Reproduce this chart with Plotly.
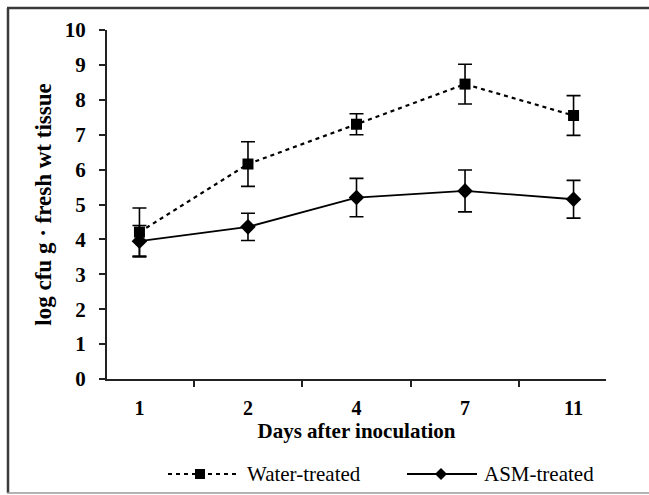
import plotly.graph_objects as go

days = ["1", "2", "4", "7", "11"]
water = [4.21, 6.16, 7.30, 8.45, 7.55]
water_err = [0.69, 0.64, 0.30, 0.57, 0.57]
asm = [3.95, 4.36, 5.20, 5.39, 5.15]
asm_err = [0.45, 0.39, 0.55, 0.60, 0.54]
y_ticks = list(range(0, 11))

W, H = 649, 495
L, R, T, B = 107, 606, 30, 379  # plot area pixels

def px(x):
    return (x - L) / (R - L)

def py(y):
    return (B - y) / (B - T)

FONT = "Liberation Serif"

fig = go.Figure()
fig.add_trace(go.Scatter(
    x=days, y=water, mode="lines+markers", name="Water-treated",
    line=dict(color="black", width=2.2, dash="4px,4px"),
    marker=dict(symbol="square", size=11, color="black"),
    error_y=dict(type="data", array=water_err, color="black", thickness=1.6, width=7),
    showlegend=False,
))
fig.add_trace(go.Scatter(
    x=days, y=asm, mode="lines+markers", name="ASM-treated",
    line=dict(color="black", width=1.8),
    marker=dict(symbol="diamond", size=12, color="black"),
    error_y=dict(type="data", array=asm_err, color="black", thickness=1.6, width=7),
    showlegend=False,
))

shapes = []
frame_col = "#3a3a3a"
shapes.append(dict(type="line", xref="paper", yref="paper", x0=px(8), x1=px(8), y0=py(8), y1=py(493),
                   line=dict(color=frame_col, width=2.5)))
shapes.append(dict(type="line", xref="paper", yref="paper", x0=px(7), x1=px(649), y0=py(8), y1=py(8),
                   line=dict(color=frame_col, width=2.5)))
shapes.append(dict(type="line", xref="paper", yref="paper", x0=px(7), x1=px(649), y0=py(493), y1=py(493),
                   line=dict(color="#9a9a9a", width=1.5)))

ly = 474
shapes.append(dict(type="line", xref="paper", yref="paper", x0=px(168), x1=px(236), y0=py(ly), y1=py(ly),
                   line=dict(color="black", width=2.2, dash="4px,4px")))
shapes.append(dict(type="rect", xref="paper", yref="paper", x0=px(195), x1=px(205), y0=py(ly + 5), y1=py(ly - 5),
                   fillcolor="black", line=dict(color="black", width=0)))
shapes.append(dict(type="line", xref="paper", yref="paper", x0=px(407), x1=px(477), y0=py(ly), y1=py(ly),
                   line=dict(color="black", width=1.8)))
dx, dy = 6, 6
cx = 441
path = "M {a},{b} L {c},{d} L {e},{f} L {g},{h} Z".format(
    a=px(cx - dx), b=py(ly), c=px(cx), d=py(ly - dy), e=px(cx + dx), f=py(ly), g=px(cx), h=py(ly + dy))
shapes.append(dict(type="path", xref="paper", yref="paper", path=path,
                   fillcolor="black", line=dict(color="black", width=0)))

annotations = [
    dict(text="Water-treated", xref="paper", yref="paper", x=px(245), y=py(ly), xanchor="left", yanchor="middle",
         showarrow=False, font=dict(family=FONT, size=21, color="black")),
    dict(text="ASM-treated", xref="paper", yref="paper", x=px(482), y=py(ly), xanchor="left", yanchor="middle",
         showarrow=False, font=dict(family=FONT, size=21, color="black")),
]

fig.update_layout(
    width=W, height=H,
    margin=dict(l=L, r=W - R, t=T, b=H - B, pad=0),
    paper_bgcolor="white", plot_bgcolor="white",
    font=dict(family=FONT, color="black"),
    shapes=shapes, annotations=annotations,
    xaxis=dict(
        type="category", categoryorder="array", categoryarray=days,
        showline=True, linecolor="#222", linewidth=2,
        ticks="outside", tickson="boundaries", ticklen=6, tickwidth=1.5, tickcolor="#222",
        ticklabelstandoff=10,
        showgrid=False, zeroline=False,
        tickfont=dict(family=FONT, size=20, color="black", weight="bold"),
        title=dict(text="<b>Days after inoculation</b>", font=dict(family=FONT, size=21, color="black"), standoff=2),
    ),
    yaxis=dict(
        range=[0, 10], tickvals=y_ticks,
        showline=True, linecolor="#222", linewidth=2,
        ticks="outside", ticklen=6, tickwidth=1.5, tickcolor="#222",
        ticklabelstandoff=9,
        showgrid=False, zeroline=False,
        tickfont=dict(family=FONT, size=21, color="black", weight="bold"),
        title=dict(text="<b>log cfu g · fresh wt tissue</b>", font=dict(family=FONT, size=23, color="black"), standoff=7),
    ),
)

fig.write_html("out.html")
